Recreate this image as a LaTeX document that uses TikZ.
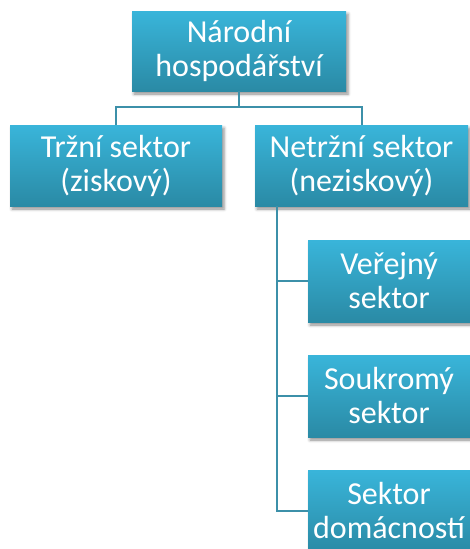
\documentclass[tikz,border=0pt]{standalone}
\usepackage{fontspec}
\setmainfont{Carlito}
\usetikzlibrary{shadows.blur}
\definecolor{boxtop}{HTML}{39B5DA}
\definecolor{boxbot}{HTML}{2A8AA5}
\definecolor{linecol}{HTML}{3C90A9}
\tikzset{
  orgbox/.style={rectangle, inner sep=0pt, top color=boxtop, bottom color=boxbot,
    draw=none, text=white, align=center,
    font=\fontsize{32}{34}\selectfont,
    blur shadow={shadow xshift=2pt, shadow yshift=-3pt, shadow blur radius=3pt, shadow opacity=45}},
  link/.style={draw=linecol, line width=2pt}
}
\begin{document}
\begin{tikzpicture}[x=1pt,y=-1pt]
\useasboundingbox (0,0) rectangle (470,549);
\node[orgbox, minimum width=214pt, minimum height=80pt] (top) at (239,51) {Národní\\hospodářství};
\node[orgbox, minimum width=212pt, minimum height=81pt] (left) at (116,165.5) {Tržní sektor\\(ziskový)};
\node[orgbox, minimum width=213pt, minimum height=81pt] (right) at (361.5,165.5) {Netržní sektor\\(neziskový)};
\node[orgbox, minimum width=162pt, minimum height=82pt] (v1) at (389,281) {Veřejný\\sektor};
\node[orgbox, minimum width=162pt, minimum height=82pt] (v2) at (389,396) {Soukromý\\sektor};
\node[orgbox, minimum width=162pt, minimum height=82pt] (v3) at (389,511) {Sektor\\domácností};
\coordinate (hub) at (239,107);
\coordinate (rv) at (277,206);
\draw[link] (top.south) -- (hub) -| (left.north);
\draw[link] (hub) -| (right.north);
\draw[link] (rv) |- (v1.west);
\draw[link] (rv) |- (v2.west);
\draw[link] (rv) |- (v3.west);
\end{tikzpicture}
\end{document}
